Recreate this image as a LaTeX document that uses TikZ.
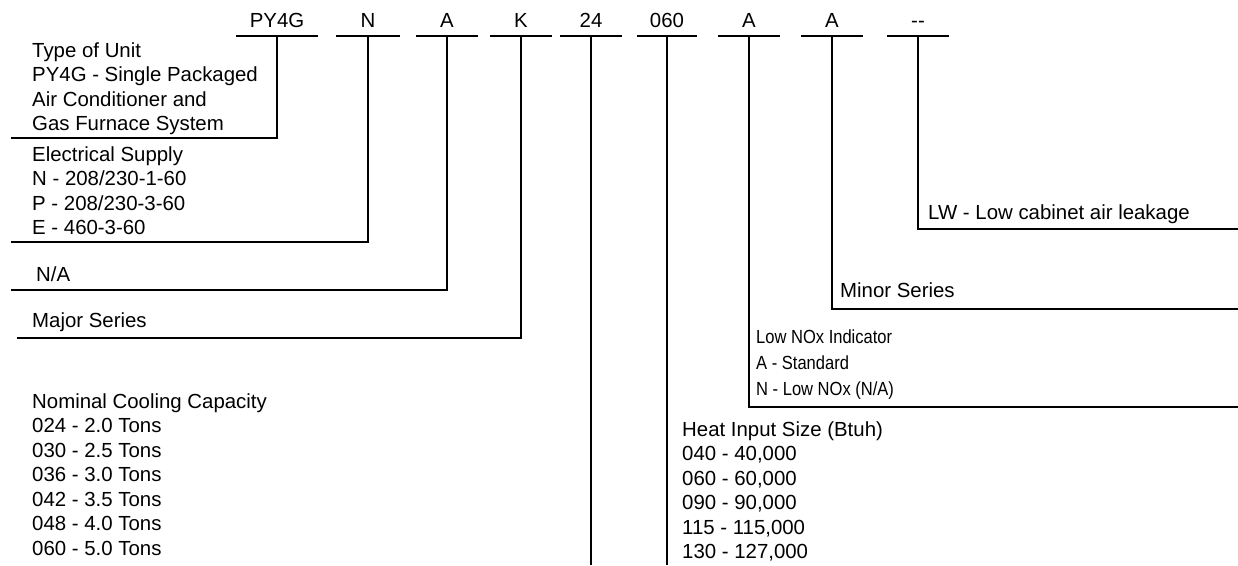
\documentclass[tikz,border=0pt]{standalone}
\usepackage{fontspec}
\setmainfont{Liberation Sans}
\newfontfamily\narrowfont{Liberation Sans}[FakeStretch=0.87]
\usepackage{tikz}
\usetikzlibrary{calc}

\tikzset{
  bar/.style={line width=2.2pt},
  lead/.style={line width=1.6pt},
  code/.style={anchor=base, inner sep=0pt, font=\fontsize{20.4}{24.5}\selectfont},
  txt/.style={anchor=base west, inner sep=0pt, font=\fontsize{20.4}{24.5}\selectfont},
  nxtxt/.style={anchor=base west, inner sep=0pt, font=\narrowfont\fontsize{19}{26}\selectfont}
}
\newcommand{\lines}[1]{\begin{tabular}[t]{@{}l@{}}#1\end{tabular}}

\begin{document}
\begin{tikzpicture}[x=1pt, y=-1pt]
			\useasboundingbox (0,0) rectangle (1238,565);
			\foreach \nm/\txt/\cx/\hw in {ty/PY4G/277/41, el/N/368/32, na/A/447/31, mj/K/521/31, cc/24/591/31, hi/060/667/30, nx/A/749/31, mn/A/832/31, lw/\mbox{-}\mbox{-}/918/31} {
				\coordinate (\nm-l) at (\cx-\hw,36);
				\coordinate (\nm-r) at (\cx+\hw,36);
				\coordinate (\nm-m) at (\cx,36);
				\draw[bar] (\nm-l) -- (\nm-r);
				\node[code] (\nm) at (\cx,27) {\txt};
			}
			\coordinate (ty-e) at (11,138);
			\coordinate (el-e) at (11,242);
			\coordinate (na-e) at (11,290);
			\coordinate (mj-e) at (17,338);
			\coordinate (cc-e) at (591,565);
			\coordinate (hi-e) at (667,565);
			\coordinate (nx-e) at (1238,407);
			\coordinate (mn-e) at (1238,309);
			\coordinate (lw-e) at (1238,229);
			\draw[lead] (ty-m) |- (ty-e);
			\draw[lead] (el-m) |- (el-e);
			\draw[lead] (na-m) |- (na-e);
			\draw[lead] (mj-m) |- (mj-e);
			\draw[lead] (cc-m) -- (cc-e);
			\draw[lead] (hi-m) -- (hi-e);
			\draw[lead] (nx-m) |- (nx-e);
			\draw[lead] (mn-m) |- (mn-e);
			\draw[lead] (lw-m) |- (lw-e);
			\node[txt] (tytxt) at (32,57) {\lines{Type of Unit\\PY4G - Single Packaged\\Air Conditioner and\\Gas Furnace System}};
			\node[txt] (eltxt) at (32,161) {\lines{Electrical Supply\\N - 208/230-1-60\\P - 208/230-3-60\\E - 460-3-60}};
			\node[txt] (natxt) at (36,281) {N/A};
			\node[txt] (mjtxt) at (32,327) {Major Series};
			\node[txt] (cctxt) at (32,408) {\lines{Nominal Cooling Capacity\\024 - 2.0 Tons\\030 - 2.5 Tons\\036 - 3.0 Tons\\042 - 3.5 Tons\\048 - 4.0 Tons\\060 - 5.0 Tons}};
			\node[txt] (hitxt) at (682,436) {\lines{Heat Input Size (Btuh)\\040 - 40,000\\060 - 60,000\\090 - 90,000\\115 - 115,000\\130 - 127,000}};
			\node[nxtxt] (nxtxt) at (756,343) {\lines{Low NOx Indicator\\A - Standard\\N - Low NOx (N/A)}};
			\node[txt] (mntxt) at (840,297) {Minor Series};
			\node[txt] (lwtxt) at (928,219) {LW - Low cabinet air leakage};
		\end{tikzpicture}
\end{document}
